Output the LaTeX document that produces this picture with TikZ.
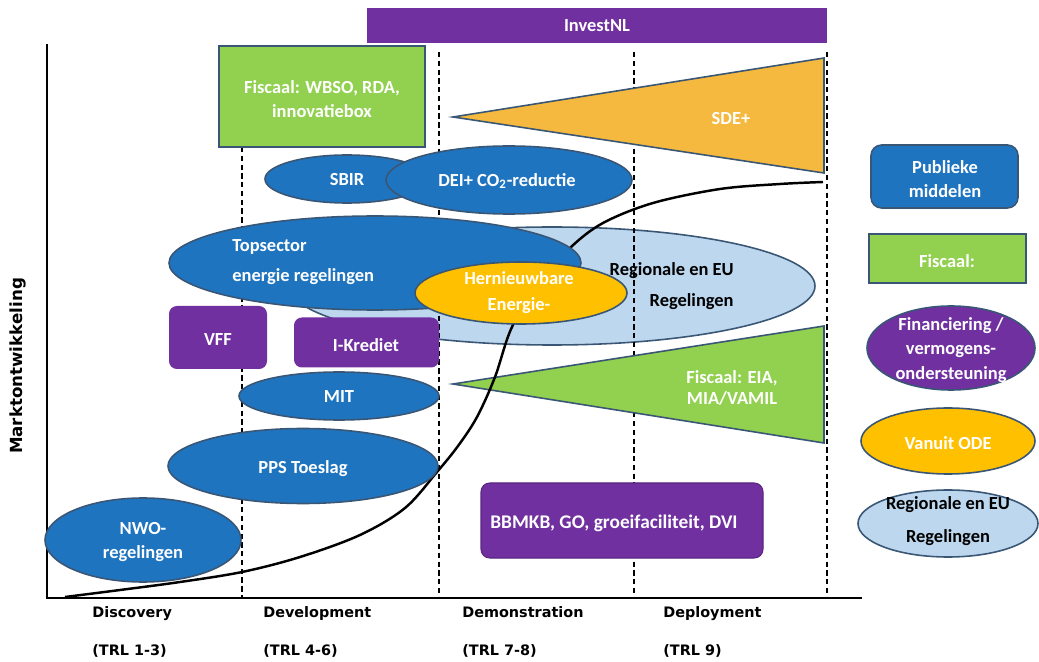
\documentclass[tikz,border=0pt]{standalone}
\usepackage{fontspec}
\setmainfont{Carlito}
\newfontfamily\verd{DejaVu Sans}
\usetikzlibrary{shapes.geometric}
\definecolor{pblue}{HTML}{1F74C0}
\definecolor{pborder}{HTML}{3A5675}
\definecolor{ppurple}{HTML}{7030A0}
\definecolor{pgreen}{HTML}{92D050}
\definecolor{psde}{HTML}{F4B93E}
\definecolor{pyellow}{HTML}{FFC000}
\definecolor{plight}{HTML}{BDD7EE}
\begin{document}
\begin{tikzpicture}[x=0.02cm,y=-0.02cm,
  ell/.style 2 args={ellipse, draw=pborder, line width=0.9pt, minimum width=#1*0.02cm, minimum height=#2*0.02cm, inner sep=0pt, outer sep=0pt},
  box/.style 2 args={rectangle, minimum width=#1*0.02cm, minimum height=#2*0.02cm, inner sep=0pt, outer sep=0pt},
  txt/.style={font=\bfseries\fontsize{10.5}{13.6}\selectfont, text=white, align=center, inner sep=0pt},
  axlbl/.style={font=\verd\bfseries\fontsize{8.2}{10}\selectfont, anchor=base west, inner sep=0pt},
  phase/.style={dashed, line width=0.7pt, dash pattern=on 3pt off 2pt},
  curve/.style={line width=1.4pt, black}
]
\useasboundingbox (0,0) rectangle (1039,662);
% axes
\coordinate (ytop) at (47,44);
\coordinate (org) at (47,598);
\coordinate (xend) at (862,598);
\draw[line width=0.9pt] (ytop) -- (org) -- (xend);
\node[font=\verd\bfseries\fontsize{9.5}{11}\selectfont, rotate=90, inner sep=0pt] (ylab) at (18,366) {Marktontwikkeling};

% Regionale en EU (background)
\node[ell={526}{118}, fill=plight] (regio) at (552,286) {};

% phase dashed lines
\coordinate (d1t) at (242,147); \coordinate (d1b) at (242,598);
\coordinate (d2t) at (439,52);  \coordinate (d2b) at (439,598);
\coordinate (d3t) at (634,52);  \coordinate (d3b) at (634,598);
\coordinate (d4t) at (827,52);  \coordinate (d4b) at (827,598);
\draw[phase] (d1t) -- (d1b);
\draw[phase] (d2t) -- (d2b);
\draw[phase] (d3t) -- (d3b);
\draw[phase] (d4t) -- (d4b);

\node[txt, text=black, align=right, anchor=east, font=\bfseries\fontsize{10.5}{18}\selectfont] (regiot) at (734,286) {Regionale en EU\\Regelingen};

% InvestNL
\node[box={460}{35}, fill=ppurple] (invest) at (597,25.5) {};
\node[txt] (investt) at (597,26) {InvestNL};

% WBSO box
\node[box={206}{101}, fill=pgreen, draw=pborder, line width=0.9pt] (wbso) at (322,96.5) {};
\node[txt] (wbsot) at (322,99) {Fiscaal: WBSO, RDA,\\innovatiebox};

% SDE+ triangle
\draw[fill=psde, draw=pborder, line width=0.9pt] (453,117) -- (824,58) -- (824,173) -- cycle;
\node[txt] (sde) at (731,119) {SDE+};

% Fiscaal EIA triangle
\draw[fill=pgreen, draw=pborder, line width=0.9pt] (453,384) -- (824,326) -- (824,443) -- cycle;
\node[txt, font=\bfseries\fontsize{10.5}{12}\selectfont] (eia) at (732,388) {Fiscaal: EIA,\\MIA/VAMIL};

% market curve
\draw[curve] plot[smooth, tension=0.55] coordinates {(65,597) (120,590) (180,582) (242,572) (300,557) (360,535) (405,508) (437,472) (458,446) (477,417) (495,377) (512,327) (540,283) (570,248) (603,223) (653,203) (720,189) (780,184) (823,182)};

% SBIR and DEI
\node[ell={164}{48}, fill=pblue] (sbir) at (347,179) {};
\node[txt] (sbirt) at (347,180) {SBIR};
\node[ell={246}{68}, fill=pblue] (dei) at (509,180) {};
\node[txt] (deit) at (507,181) {DEI+ CO\textsubscript{2}-reductie};

% Topsector
\node[ell={412}{94}, fill=pblue] (top) at (375,263) {};
\node[txt, anchor=west, align=left, font=\bfseries\fontsize{10.5}{17}\selectfont] (topt) at (232,262) {Topsector\\energie regelingen};

% Hernieuwbare
\node[ell={212}{62}, fill=pyellow] (hern) at (521,293) {};
\node[txt, font=\bfseries\fontsize{10.5}{14.7}\selectfont] (hernt) at (519,293) {Hernieuwbare\\Energie-};

% purple boxes
\node[box={98}{63}, fill=ppurple, rounded corners=4.5pt] (vff) at (218,337.5) {};
\node[txt] (vfft) at (218,340) {VFF};
\node[box={145}{50}, fill=ppurple, rounded corners=4.5pt] (ikred) at (366.5,342.5) {};
\node[txt] (ikredt) at (366,345) {I-Krediet};

% MIT, PPS, NWO
\node[ell={200}{48}, fill=pblue] (mit) at (339,396) {};
\node[txt] (mitt) at (339,397) {MIT};
\node[ell={270}{75}, fill=pblue] (pps) at (303,466) {};
\node[txt] (ppst) at (303,469) {PPS Toeslag};
\node[ell={196}{84}, fill=pblue] (nwo) at (143,540) {};
\node[txt, font=\bfseries\fontsize{10.5}{14.2}\selectfont] (nwot) at (143,542) {NWO-\\regelingen};

% BBMKB
\node[box={282}{75}, fill=ppurple, draw=ppurple!80!black, line width=0.6pt, rounded corners=5pt] (bbmkb) at (622,520.5) {};
\node[txt, font=\bfseries\fontsize{11}{13.6}\selectfont] (bbmkbt) at (614,523) {BBMKB, GO, groeifaciliteit, DVI};

% legend
\node[box={147}{63}, fill=pblue, draw=pborder, line width=0.9pt, rounded corners=6pt] (lpub) at (944.5,176.5) {};
\node[txt] (lpubt) at (945,179) {Publieke\\middelen};
\node[box={157}{49}, fill=pgreen, draw=pborder, line width=1.1pt] (lfis) at (947.5,258.5) {};
\node[txt] (lfist) at (947,261) {Fiscaal:};
\node[ell={168}{84}, fill=ppurple] (lfin) at (951,348) {};
\node[txt, font=\bfseries\fontsize{10.5}{13.9}\selectfont] (lfint) at (951,350) {Financiering /\\vermogens-\\ondersteuning};
\node[ell={174}{66}, fill=pyellow] (lode) at (948,441) {};
\node[txt] (lodet) at (948,443) {Vanuit ODE};
\node[ell={180}{67}, fill=plight] (lreg) at (948,523.5) {};
\node[txt, text=black, font=\bfseries\fontsize{10.5}{18.7}\selectfont] (lregt) at (948,521) {Regionale en EU\\Regelingen};

% phase labels
\node[axlbl] (l1) at (92,617) {Discovery};
\node[axlbl] (l2) at (263,617) {Development};
\node[axlbl] (l3) at (462,617) {Demonstration};
\node[axlbl] (l4) at (663,617) {Deployment};
\node[axlbl] (t1) at (92,655) {(TRL 1-3)};
\node[axlbl] (t2) at (263,655) {(TRL 4-6)};
\node[axlbl] (t3) at (462,655) {(TRL 7-8)};
\node[axlbl] (t4) at (663,655) {(TRL 9)};
\end{tikzpicture}
\end{document}
